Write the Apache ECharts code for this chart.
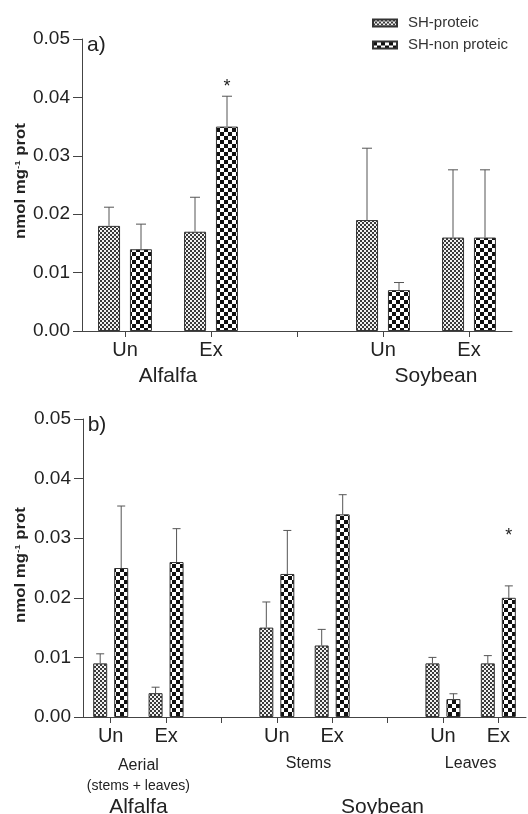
<!DOCTYPE html>
<html>
<head>
<meta charset="utf-8">
<script src="https://cdn.jsdelivr.net/npm/echarts@6/dist/echarts.min.js"></script>
<style>
html,body{margin:0;padding:0;background:#fff;}
#c{width:528px;height:814px;}
</style>
</head>
<body>
<div id="c"></div>
<script>
// ---- data ----
const seriesNames = ['SH-proteic', 'SH-non proteic'];
const yTicks = [0.00, 0.01, 0.02, 0.03, 0.04, 0.05];
const yTitle = ['nmol mg', '-1', ' prot'];

const topCats = ['Un', 'Ex', '', 'Un', 'Ex'];
const topGroups = ['Alfalfa', 'Soybean'];
const topProteic = [0.018, 0.017, null, 0.019, 0.016];
const topProteicErr = [0.0032, 0.0059, null, 0.0123, 0.0116];
const topNonProteic = [0.014, 0.035, null, 0.007, 0.016];
const topNonProteicErr = [0.0043, 0.0052, null, 0.0013, 0.0116];
const topNonProteicStar = [null, 0.0418, null, null, null];

const bottomCats = ['Un', 'Ex', '', 'Un', 'Ex', '', 'Un', 'Ex'];
const bottomTissues = ['Aerial', 'Stems', 'Leaves'];
const bottomTissueNote = '(stems + leaves)';
const bottomGroups = ['Alfalfa', 'Soybean'];
const bottomProteic = [0.009, 0.004, null, 0.015, 0.012, null, 0.009, 0.009];
const bottomProteicErr = [0.0016, 0.0010, null, 0.0043, 0.0027, null, 0.0010, 0.0013];
const bottomNonProteic = [0.025, 0.026, null, 0.024, 0.034, null, 0.003, 0.020];
const bottomNonProteicErr = [0.0104, 0.0056, null, 0.0073, 0.0033, null, 0.0009, 0.0020];
const bottomNonProteicStar = [null, null, null, null, null, null, null, 0.0304];

// ---- styles ----
const FONT = "'Liberation Sans', Arial, sans-serif";
const TXT = '#222';
const AX = '#444';

function makePattern(cell, c1, c2) {
  const cv = document.createElement('canvas');
  cv.width = cell * 2; cv.height = cell * 2;
  const g = cv.getContext('2d');
  g.fillStyle = c2; g.fillRect(0, 0, cell * 2, cell * 2);
  g.fillStyle = c1;
  g.fillRect(0, 0, cell, cell);
  g.fillRect(cell, cell, cell, cell);
  return { image: cv, repeat: 'repeat' };
}
const patProteic = makePattern(2, '#3a3a3a', '#f2f2f2');
const patNon = makePattern(4, '#111', '#fff');

const chart = echarts.init(document.getElementById('c'), null, { renderer: 'canvas' });

function yAxisCfg(gridIndex) {
  return {
    type: 'value', gridIndex, min: 0, max: 0.05, interval: 0.01,
    axisLine: { show: true, lineStyle: { color: AX, width: 1 } },
    axisTick: { show: true, length: 9, lineStyle: { color: AX } },
    splitLine: { show: false },
    axisLabel: {
      fontSize: 19, color: TXT, fontFamily: FONT, margin: 12,
      formatter: v => {
        const t = yTicks.find(k => Math.abs(k - v) < 1e-9);
        return (t === undefined ? v : t).toFixed(2);
      }
    }
  };
}
function xAxisCfg(gridIndex, cats) {
  return {
    type: 'category', gridIndex, data: cats,
    axisLine: { show: true, lineStyle: { color: AX, width: 1 } },
    axisTick: { show: true, alignWithLabel: true, interval: 0, length: 6, lineStyle: { color: AX } },
    axisLabel: { interval: 0, fontSize: 20, color: TXT, fontFamily: FONT, margin: 9 },
    splitLine: { show: false }
  };
}

function errRender(halfOff, capW) {
  return function (params, api) {
    const x = api.value(0), m = api.value(1), e = api.value(2), slot = api.value(3), star = api.value(4);
    const base = api.coord([x, m]);
    const top = api.coord([x, m + e]);
    const cx = base[0] + (slot === 0 ? -halfOff : halfOff);
    const style = { stroke: '#555', lineWidth: 1 };
    const children = [
      { type: 'line', shape: { x1: cx, y1: base[1], x2: cx, y2: top[1] }, style },
      { type: 'line', shape: { x1: cx - capW / 2, y1: top[1], x2: cx + capW / 2, y2: top[1] }, style }
    ];
    if (star && !isNaN(star)) {
      const sp = api.coord([x, star]);
      children.push({ type: 'text', style: { text: '*', x: cx, y: sp[1], align: 'center', verticalAlign: 'middle', fontSize: 18, fill: TXT, fontFamily: FONT } });
    }
    return { type: 'group', children };
  };
}
function errData(means, errs, slot, stars) {
  const out = [];
  means.forEach((m, i) => {
    if (m === null) return;
    out.push([i, m, errs[i], slot, stars ? (stars[i] === null ? NaN : stars[i]) : NaN]);
  });
  return out;
}

const barBase = { type: 'bar', emphasis: { disabled: true }, animation: false };

const option = {
  animation: false,
  textStyle: { fontFamily: FONT },
  grid: [
    { left: 82, right: 16, top: 39, height: 292 },
    { left: 83, right: 2, top: 419, height: 298 }
  ],
  xAxis: [xAxisCfg(0, topCats), xAxisCfg(1, bottomCats)],
  yAxis: [yAxisCfg(0), yAxisCfg(1)],
  legend: {
    orient: 'vertical', left: 372, top: 15, padding: 0, itemWidth: 24, itemHeight: 7, itemGap: 6,
    icon: 'rect', data: seriesNames,
    textStyle: { fontSize: 15, color: '#333', fontFamily: FONT, lineHeight: 16, padding: [0, 0, 0, 6] },
    selectedMode: false
  },
  series: [
    Object.assign({}, barBase, { name: seriesNames[0], xAxisIndex: 0, yAxisIndex: 0, data: topProteic, barWidth: 22, barGap: '45%', itemStyle: { color: patProteic, borderColor: '#333', borderWidth: 1 } }),
    Object.assign({}, barBase, { name: seriesNames[1], xAxisIndex: 0, yAxisIndex: 0, data: topNonProteic, barWidth: 22, barGap: '45%', itemStyle: { color: patNon, borderColor: '#333', borderWidth: 1 } }),
    Object.assign({}, barBase, { name: seriesNames[0], xAxisIndex: 1, yAxisIndex: 1, data: bottomProteic, barWidth: 14, barGap: '50%', itemStyle: { color: patProteic, borderColor: '#333', borderWidth: 1 } }),
    Object.assign({}, barBase, { name: seriesNames[1], xAxisIndex: 1, yAxisIndex: 1, data: bottomNonProteic, barWidth: 14, barGap: '50%', itemStyle: { color: patNon, borderColor: '#333', borderWidth: 1 } }),
    { type: 'custom', xAxisIndex: 0, yAxisIndex: 0, renderItem: errRender(16, 10), data: errData(topProteic, topProteicErr, 0).concat(errData(topNonProteic, topNonProteicErr, 1, topNonProteicStar)), z: 5, silent: true },
    { type: 'custom', xAxisIndex: 1, yAxisIndex: 1, renderItem: errRender(10.5, 8), data: errData(bottomProteic, bottomProteicErr, 0).concat(errData(bottomNonProteic, bottomNonProteicErr, 1, bottomNonProteicStar)), z: 5, silent: true }
  ]
};
chart.setOption(option);

// ---- labels placed from axis coordinates ----
function px(ax, idx) { return chart.convertToPixel({ xAxisIndex: ax }, idx); }
function py(ax, v) { return chart.convertToPixel({ yAxisIndex: ax }, v); }
function txt(text, x, y, size) {
  return { type: 'text', style: { text, x, y, align: 'center', verticalAlign: 'middle', fontSize: size, fill: TXT, fontFamily: FONT } };
}
function yTitleText(cy) {
  return {
    type: 'text', x: 21, y: cy, rotation: Math.PI / 2, scaleX: 1.2,
    style: {
      text: '{a|' + yTitle[0] + '}{s|' + yTitle[1] + '}{a|' + yTitle[2] + '}',
      x: 0, y: 0, align: 'center', verticalAlign: 'middle',
      rich: {
        a: { fontSize: 14, fontWeight: 'bold', fill: TXT, fontFamily: FONT },
        s: { fontSize: 8, fontWeight: 'bold', fill: TXT, fontFamily: FONT, verticalAlign: 'top', padding: [0, 0, 7, 0] }
      }
    }
  };
}
const yTop0 = py(0, 0), yTop5 = py(0, 0.05);
const yBot0 = py(1, 0), yBot5 = py(1, 0.05);
const gfx = [
  yTitleText((yTop0 + yTop5) / 2 - 4),
  yTitleText((yBot0 + yBot5) / 2 - 3),
  { type: 'text', style: { text: 'a)', x: px(0, 0) - 38, y: yTop5 + 6, align: 'left', verticalAlign: 'middle', fontSize: 21, fill: TXT, fontFamily: FONT } },
  { type: 'text', style: { text: 'b)', x: px(1, 0) - 23, y: yBot5 + 6, align: 'left', verticalAlign: 'middle', fontSize: 21, fill: TXT, fontFamily: FONT } },
  txt(topGroups[0], (px(0, 0) + px(0, 1)) / 2, yTop0 + 45, 21),
  txt(topGroups[1], (px(0, 3) + px(0, 4)) / 2 + 10, yTop0 + 45, 21),
  txt(bottomTissues[0], (px(1, 0) + px(1, 1)) / 2, yBot0 + 49, 16),
  txt(bottomTissueNote, (px(1, 0) + px(1, 1)) / 2, yBot0 + 69, 14),
  txt(bottomTissues[1], (px(1, 3) + px(1, 4)) / 2 + 4, yBot0 + 47, 16),
  txt(bottomTissues[2], (px(1, 6) + px(1, 7)) / 2, yBot0 + 47, 16),
  txt(bottomGroups[0], (px(1, 0) + px(1, 1)) / 2, yBot0 + 90, 21),
  txt(bottomGroups[1], (px(1, 3) + px(1, 7)) / 2 - 5, yBot0 + 90, 21)
];
chart.setOption({ graphic: gfx });
</script>
</body>
</html>
